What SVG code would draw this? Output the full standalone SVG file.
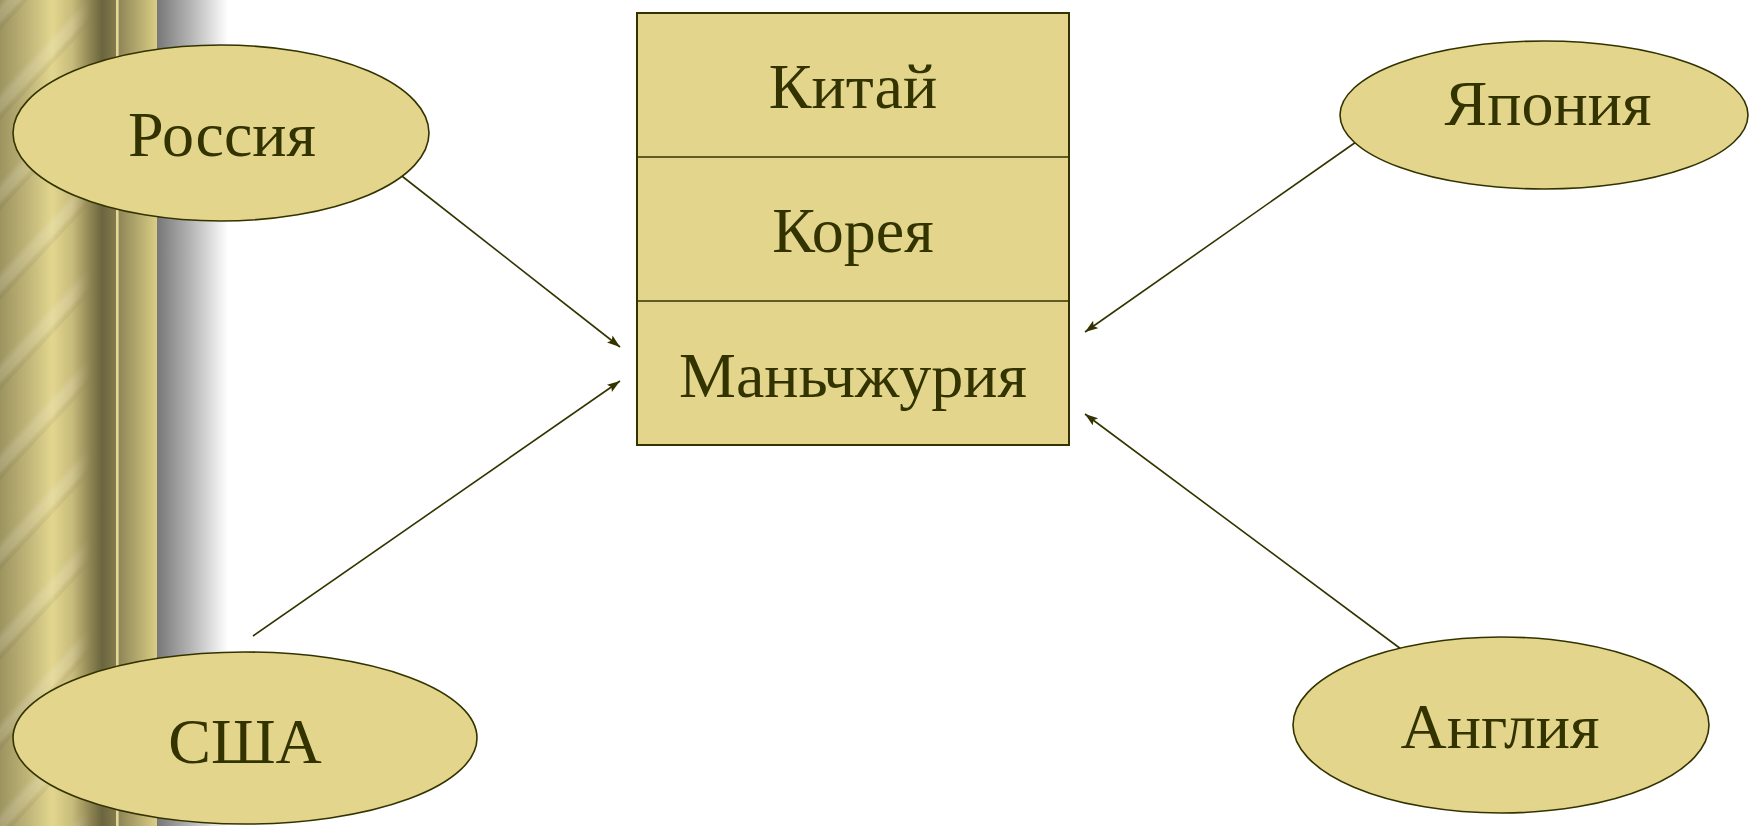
<svg xmlns="http://www.w3.org/2000/svg" width="1750" height="826" viewBox="0 0 1750 826">
  <style>
    .node { fill: #E3D58C; stroke: #333300; stroke-width: 1.6; }
    .lbl { font-family: "Liberation Serif", "Times New Roman", serif; font-size: 64px; fill: #333300; text-anchor: middle; }
    .conn { stroke: #333300; stroke-width: 1.6; fill: none; marker-end: url(#arrow); }
  </style>
  <defs>
    <marker id="arrow" markerUnits="userSpaceOnUse" markerWidth="14" markerHeight="10" refX="13" refY="4.5" orient="auto">
      <path d="M0,0 L13,4.5 L0,9 L2.5,4.5 Z" fill="#333300"/>
    </marker>
    <linearGradient id="goldA" gradientUnits="userSpaceOnUse" x1="0" y1="0" x2="116" y2="0">
      <stop offset="0" stop-color="#9C935F"/>
      <stop offset="0.22" stop-color="#BDB276"/>
      <stop offset="0.45" stop-color="#E2D68F"/>
      <stop offset="0.62" stop-color="#C9BC7C"/>
      <stop offset="0.78" stop-color="#8E8452"/>
      <stop offset="0.88" stop-color="#6B653F"/>
      <stop offset="1" stop-color="#837B4D"/>
    </linearGradient>
    <linearGradient id="goldB" gradientUnits="userSpaceOnUse" x1="118" y1="0" x2="157" y2="0">
      <stop offset="0" stop-color="#8C8455"/>
      <stop offset="1" stop-color="#DACD86"/>
    </linearGradient>
    <linearGradient id="gray" gradientUnits="userSpaceOnUse" x1="157" y1="0" x2="228" y2="0">
      <stop offset="0" stop-color="#777777"/>
      <stop offset="0.5" stop-color="#B8B8B8"/>
      <stop offset="1" stop-color="#FFFFFF"/>
    </linearGradient>
    <linearGradient id="band" x1="0" y1="0" x2="0" y2="1">
      <stop offset="0" stop-color="#FFFFFF" stop-opacity="0"/>
      <stop offset="0.35" stop-color="#FFFFFF" stop-opacity="0.16"/>
      <stop offset="0.7" stop-color="#FFFFFF" stop-opacity="0.12"/>
      <stop offset="1" stop-color="#000000" stop-opacity="0.04"/>
    </linearGradient>
    <pattern id="stripes" patternUnits="userSpaceOnUse" width="200" height="90" patternTransform="skewY(-47)">
      <rect x="0" y="0" width="200" height="30" fill="url(#band)"/>
    </pattern>
    <linearGradient id="fadeX" gradientUnits="userSpaceOnUse" x1="0" y1="0" x2="90" y2="0">
      <stop offset="0" stop-color="#FFFFFF"/>
      <stop offset="0.8" stop-color="#FFFFFF"/>
      <stop offset="1" stop-color="#FFFFFF" stop-opacity="0"/>
    </linearGradient>
    <mask id="stripeMask" maskUnits="userSpaceOnUse" x="0" y="0" width="90" height="826">
      <rect x="0" y="0" width="90" height="826" fill="url(#fadeX)"/>
    </mask>
  </defs>

  <g id="background">
    <rect x="0" y="0" width="1750" height="826" fill="#FFFFFF"/>
    <rect x="0" y="0" width="116" height="826" fill="url(#goldA)"/>
    <rect x="0" y="0" width="90" height="826" fill="url(#stripes)" mask="url(#stripeMask)"/>
    <rect x="116" y="0" width="2.5" height="826" fill="#E6D890"/>
    <rect x="118.5" y="0" width="38.5" height="826" fill="url(#goldB)"/>
    <rect x="157" y="0" width="71" height="826" fill="url(#gray)"/>
  </g>

  <g id="connectors">
    <line class="conn" x1="398" y1="173" x2="620" y2="347"/>
    <line class="conn" x1="253" y1="636" x2="620" y2="381"/>
    <line class="conn" x1="1356" y1="142" x2="1085" y2="332"/>
    <line class="conn" x1="1405" y1="652" x2="1085" y2="414"/>
  </g>

  <g id="center-box">
    <rect x="637" y="13" width="432" height="432" fill="#E3D58C" stroke="#333300" stroke-width="2"/>
    <line x1="637" y1="157" x2="1069" y2="157" stroke="#333300" stroke-width="1.6"/>
    <line x1="637" y1="301" x2="1069" y2="301" stroke="#333300" stroke-width="1.6"/>
    <text class="lbl" x="853" y="108">Китай</text>
    <text class="lbl" x="853" y="252">Корея</text>
    <text class="lbl" x="853" y="397">Маньчжурия</text>
  </g>

  <g id="russia">
    <ellipse class="node" cx="221" cy="133" rx="208" ry="88"/>
    <text class="lbl" x="222" y="156">Россия</text>
  </g>

  <g id="usa">
    <ellipse class="node" cx="245" cy="738" rx="232" ry="86"/>
    <text class="lbl" x="245" y="763">США</text>
  </g>

  <g id="japan">
    <ellipse class="node" cx="1544" cy="115" rx="204" ry="74"/>
    <text class="lbl" x="1548" y="125">Япония</text>
  </g>

  <g id="england">
    <ellipse class="node" cx="1501" cy="725" rx="208" ry="88"/>
    <text class="lbl" x="1500" y="748">Англия</text>
  </g>
</svg>
